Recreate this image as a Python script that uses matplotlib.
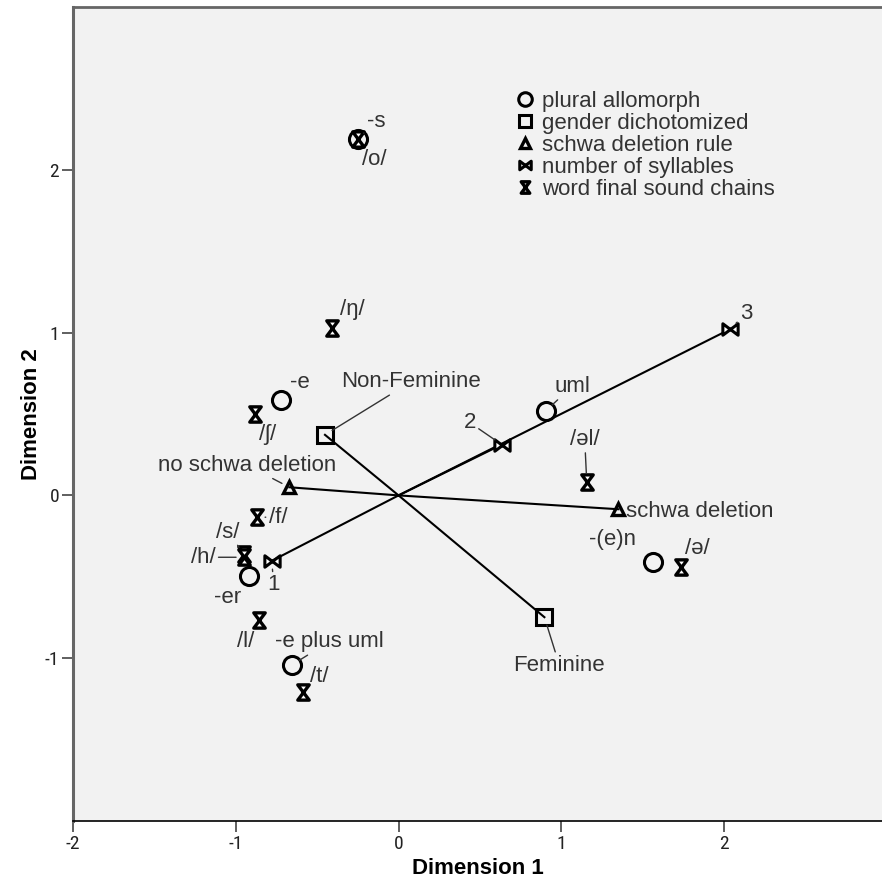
import matplotlib
matplotlib.use("Agg")
import matplotlib.pyplot as plt
from matplotlib.path import Path
from matplotlib import font_manager

# pick a font family that is really installed
def pick_font(names):
    have = {f.name for f in font_manager.fontManager.ttflist}
    for n in names:
        if n in have:
            return n
    return "DejaVu Sans"

main_font = pick_font(["Liberation Sans", "Arial"])
narrow_font = pick_font(["Liberation Sans Narrow", "Roboto Condensed", "Liberation Sans"])
plt.rcParams["font.family"] = main_font
plt.rcParams["axes.unicode_minus"] = False

# category points (object scores)
plural_labels = ["-s", "-e", "uml", "-(e)n", "-er", "-e plus uml"]
plural_x = [-0.25, -0.72, 0.906, 1.566, -0.919, -0.655]
plural_y = [2.189, 0.587, 0.521, -0.407, -0.493, -1.041]

gender_labels = ["Non-Feminine", "Feminine"]
gender_x = [-0.452, 0.896]
gender_y = [0.372, -0.748]

schwa_labels = ["no schwa deletion", "schwa deletion"]
schwa_x = [-0.671, 1.351]
schwa_y = [0.050, -0.085]

syll_labels = ["1", "2", "3"]
syll_x = [-0.779, 0.634, 2.037]
syll_y = [-0.402, 0.312, 1.021]

sound_labels = ["/o/", "/\u014b/", "/\u0283/", "/f/", "/s/", "/h/", "/l/", "/t/", "/\u0259l/", "/\u0259/"]
sound_x = [-0.25, -0.407, -0.882, -0.871, -0.95, -0.947, -0.857, -0.585, 1.156, 1.734]
sound_y = [2.189, 1.031, 0.501, -0.134, -0.36, -0.380, -0.765, -1.206, 0.085, -0.441]

legend_names = ["plural allomorph", "gender dichotomized", "schwa deletion rule",
                "number of syllables", "word final sound chains"]

# label placement: offset in pixels from the point, leader line or not, alignment
label_pos = {
    "-s": (18, 18, True, "center"),
    "-e": (19, 17, False, "center"),
    "uml": (26, 24, True, "center"),
    "-(e)n": (-41, 22, False, "center"),
    "-er": (-21, -22, False, "center"),
    "-e plus uml": (37, 23, True, "center"),
    "Non-Feminine": (86, 53, True, "center"),
    "Feminine": (15, -48, True, "center"),
    "no schwa deletion": (-42, 22, True, "center"),
    "schwa deletion": (8, -2, False, "left"),
    "1": (2, -24, True, "center"),
    "2": (-32, 22, True, "center"),
    "3": (16, 16, True, "center"),
    "/o/": (16, -20, False, "center"),
    "/\u014b/": (20, 18, False, "center"),
    "/\u0283/": (13, -21, False, "center"),
    "/f/": (21, 0, True, "center"),
    "/s/": (-16, 22, True, "center"),
    "/h/": (-41, 0, True, "center"),
    "/l/": (-13, -22, False, "center"),
    "/t/": (16, 15, False, "center"),
    "/\u0259l/": (-2, 42, True, "center"),
    "/\u0259/": (17, 19, False, "center"),
}

# custom markers
bowtie = Path([(-1, -0.75), (0, 0), (-1, 0.75), (-1, -0.75),
               (1, -0.75), (0, 0), (1, 0.75), (1, -0.75)],
              [Path.MOVETO, Path.LINETO, Path.LINETO, Path.CLOSEPOLY,
               Path.MOVETO, Path.LINETO, Path.LINETO, Path.CLOSEPOLY])
hourglass = Path([(-0.75, 1), (0.75, 1), (0, 0), (-0.75, 1),
                  (-0.75, -1), (0.75, -1), (0, 0), (-0.75, -1)],
                 [Path.MOVETO, Path.LINETO, Path.LINETO, Path.CLOSEPOLY,
                  Path.MOVETO, Path.LINETO, Path.LINETO, Path.CLOSEPOLY])

fig = plt.figure(figsize=(8.82, 8.90), dpi=100)
ax = fig.add_axes([73 / 882, 69 / 890, 809 / 882, 814 / 890])
ax.set_facecolor("#f2f2f2")

# vectors from the origin for the ordinal variables
for xs, ys in [(gender_x, gender_y), (schwa_x, schwa_y), (syll_x, syll_y)]:
    for x, y in zip(xs, ys):
        ax.plot([0, x], [0, y], color="black", lw=1.5, zorder=2)

groups = [
    (plural_labels, plural_x, plural_y, dict(marker="o", ms=13, mfc="none", mew=2.2)),
    (gender_labels, gender_x, gender_y, dict(marker="s", ms=12, mfc="none", mew=2.2)),
    (schwa_labels, schwa_x, schwa_y, dict(marker="^", ms=9, mfc="none", mew=2.4)),
    (syll_labels, syll_x, syll_y, dict(marker=bowtie, ms=11, mfc="white", mew=2.2)),
    (sound_labels, sound_x, sound_y, dict(marker=hourglass, ms=11, mfc="white", mew=2.4)),
]

handles = []
for (labs, xs, ys, style), name in zip(groups, legend_names):
    h, = ax.plot(xs, ys, ls="none", color="black", mec="black", zorder=3, label=name, **style)
    handles.append(h)
    for lab, x, y in zip(labs, xs, ys):
        dx, dy, lead, ha = label_pos[lab]
        ap = dict(arrowstyle="-", color="#333333", lw=1.0, shrinkA=0, shrinkB=6) if lead else None
        ax.annotate(lab, xy=(x, y), xytext=(dx, dy), textcoords="offset pixels",
                    ha=ha, va="center", fontsize=16, color="#333333",
                    arrowprops=ap, zorder=4)

leg = ax.legend(handles=handles, loc="upper left", bbox_to_anchor=(0.535, 0.908),
                frameon=False, fontsize=16, markerscale=0.75, handlelength=0.9,
                handletextpad=0.35, labelspacing=0.05, borderaxespad=0)
for t in leg.get_texts():
    t.set_color("#333333")

ax.set_xlim(-2, 2.97)
ax.set_ylim(-2, 3.0)
ax.set_xticks([-2, -1, 0, 1, 2])
ax.set_yticks([-1, 0, 1, 2])
ax.tick_params(axis="both", direction="out", length=8, width=1.2, color="#444444",
               labelsize=14, labelcolor="#222222")
ax.tick_params(axis="x", pad=2)
ax.tick_params(axis="y", pad=2)
for lab in ax.get_xticklabels() + ax.get_yticklabels():
    lab.set_fontfamily(narrow_font)

ax.spines["right"].set_visible(False)
ax.spines["top"].set_color("#666666")
ax.spines["top"].set_linewidth(2)
ax.spines["left"].set_color("#666666")
ax.spines["left"].set_linewidth(2.2)
ax.spines["bottom"].set_color("black")
ax.spines["bottom"].set_linewidth(1.2)

ax.set_xlabel("Dimension 1", fontsize=16, fontweight="bold", labelpad=4)
ax.set_ylabel("Dimension 2", fontsize=16, fontweight="bold", labelpad=2)

fig.savefig("out.png", dpi=100)
